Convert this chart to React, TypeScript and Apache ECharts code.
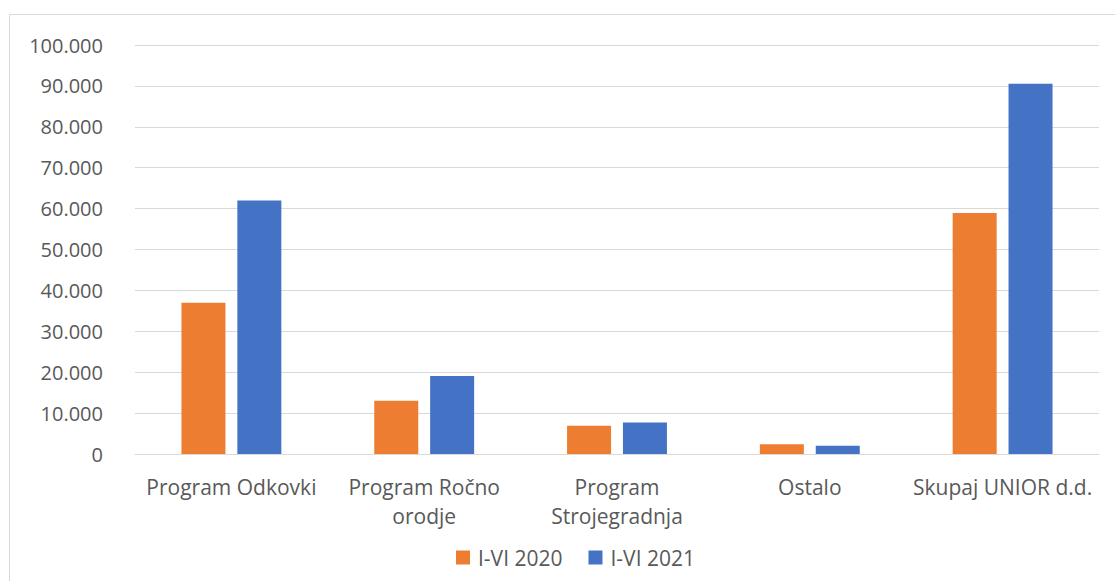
import React, { useEffect, useRef } from "react";
import * as echarts from "echarts";

const categories = [
  "Program Odkovki",
  "Program Ročno orodje",
  "Program Strojegradnja",
  "Ostalo",
  "Skupaj UNIOR d.d.",
];
const labelLines: Record<string, string> = {
  "Program Ročno orodje": "Program Ročno\norodje",
  "Program Strojegradnja": "Program\nStrojegradnja",
};
const series2020 = [37000, 13000, 6900, 2400, 58900];
const series2021 = [62000, 19100, 7700, 2000, 90500];
const seriesNames = ["I-VI 2020", "I-VI 2021"];

const FONT = "'Open Sans', sans-serif";
const TXT = "#595959";

function fmt(v: number): string {
  if (v === 0) return "0";
  const s = Math.round(v).toString();
  return s.replace(/\B(?=(\d{3})+(?!\d))/g, ".");
}

export default function App() {
  const ref = useRef<HTMLDivElement>(null);
  useEffect(() => {
    if (!ref.current) return;
    const chart = echarts.init(ref.current, null, { renderer: "svg" });
    chart.setOption({
      animation: false,
      backgroundColor: "#ffffff",
      textStyle: { fontFamily: FONT },
      graphic: [
        {
          type: "rect",
          shape: { x: 9.5, y: 14.5, width: 1200, height: 700 },
          style: { fill: "none", stroke: "#d9d9d9", lineWidth: 1 },
          silent: true,
        },
      ],
      grid: { left: 135, right: 16, top: 45, bottom: 127, containLabel: false },
      legend: {
        data: seriesNames,
        bottom: 8,
        left: 451,
        icon: "rect",
        itemWidth: 14,
        itemHeight: 14,
        itemGap: 26,
        textStyle: { color: TXT, fontSize: 21, fontFamily: FONT, padding: [0, 0, 0, 3] },
      },
      xAxis: {
        type: "category",
        data: categories,
        axisLine: { show: true, lineStyle: { color: "#d9d9d9", width: 1 } },
        axisTick: { show: false },
        axisLabel: {
          color: TXT,
          fontSize: 21,
          fontFamily: FONT,
          margin: 18,
          lineHeight: 29,
          interval: 0,
          formatter: (v: string) => labelLines[v] || v,
        },
      },
      yAxis: {
        type: "value",
        min: 0,
        max: 100000,
        interval: 10000,
        axisLine: { show: false },
        axisTick: { show: false },
        splitLine: { lineStyle: { color: "#d9d9d9", width: 1 } },
        axisLabel: {
          color: TXT,
          fontSize: 20,
          fontFamily: FONT,
          margin: 32,
          formatter: (v: number) => fmt(v),
        },
      },
      series: [
        {
          name: seriesNames[0],
          type: "bar",
          data: series2020,
          barWidth: 44,
          barGap: "27%",
          itemStyle: { color: "#ED7D31" },
        },
        {
          name: seriesNames[1],
          type: "bar",
          data: series2021,
          barWidth: 44,
          barGap: "27%",
          itemStyle: { color: "#4472C4" },
        },
      ],
    });
    return () => chart.dispose();
  }, []);
  return (
    <div
      ref={ref}
      style={{ position: "fixed", left: 0, top: 0, width: 1115, height: 581 }}
    />
  );
}
